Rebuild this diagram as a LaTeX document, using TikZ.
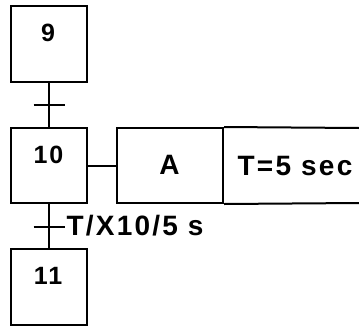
\documentclass[tikz,border=0pt]{standalone}
\usepackage{fontspec}
\newfontfamily\gfont[LetterSpace=8]{Liberation Sans}
\begin{document}
\begin{tikzpicture}[x=1pt,y=-1pt,
  line width=2pt,
  stepbox/.style={draw,rectangle,minimum width=76pt,minimum height=76pt,inner sep=0pt},
  actbox/.style={draw,rectangle,minimum width=106pt,minimum height=75pt,inner sep=0pt},
  numtxt/.style={inner sep=0pt,font=\gfont\bfseries\fontsize{25}{29}\selectfont},
  bigtxt/.style={inner sep=0pt,font=\gfont\bfseries\fontsize{28}{33}\selectfont}]
\useasboundingbox (0,0) rectangle (359,327);
% steps
\node[stepbox] (s9) at (49,44) {};
\node[stepbox,minimum height=75pt] (s10) at (49,165.5) {};
\node[stepbox] (s11) at (49,287) {};
\node[numtxt] (n9) at (48,33) {9};
\node[numtxt] (n10) at (48.5,154.5) {10};
\node[numtxt] (n11) at (48,275.5) {11};
% links
\draw (s9.south) -- (s10.north);
\draw (s10.south) -- (s11.north);
\coordinate (t1) at (49,105);
\coordinate (t2) at (49,227);
\draw ([xshift=-15.5pt]t1) -- ([xshift=15.5pt]t1);
\draw ([xshift=-15.5pt]t2) -- ([xshift=15.5pt]t2);
\node[bigtxt,anchor=west] (r2) at (65.5,226) {T/X10/5 s};
% action
\node[actbox] (a) at (170,165.5) {};
\node[bigtxt] (at) at (169.5,165) {A};
\draw (s10.east |- a.west) -- (a.west);
\coordinate (tr) at (359,128);
\coordinate (br) at (359,203);
\draw (a.north east) -- (tr);
\draw (a.south east) -- (br);
\node[bigtxt] (tt) at (295,166.5) {T=5 sec};
\end{tikzpicture}
\end{document}
